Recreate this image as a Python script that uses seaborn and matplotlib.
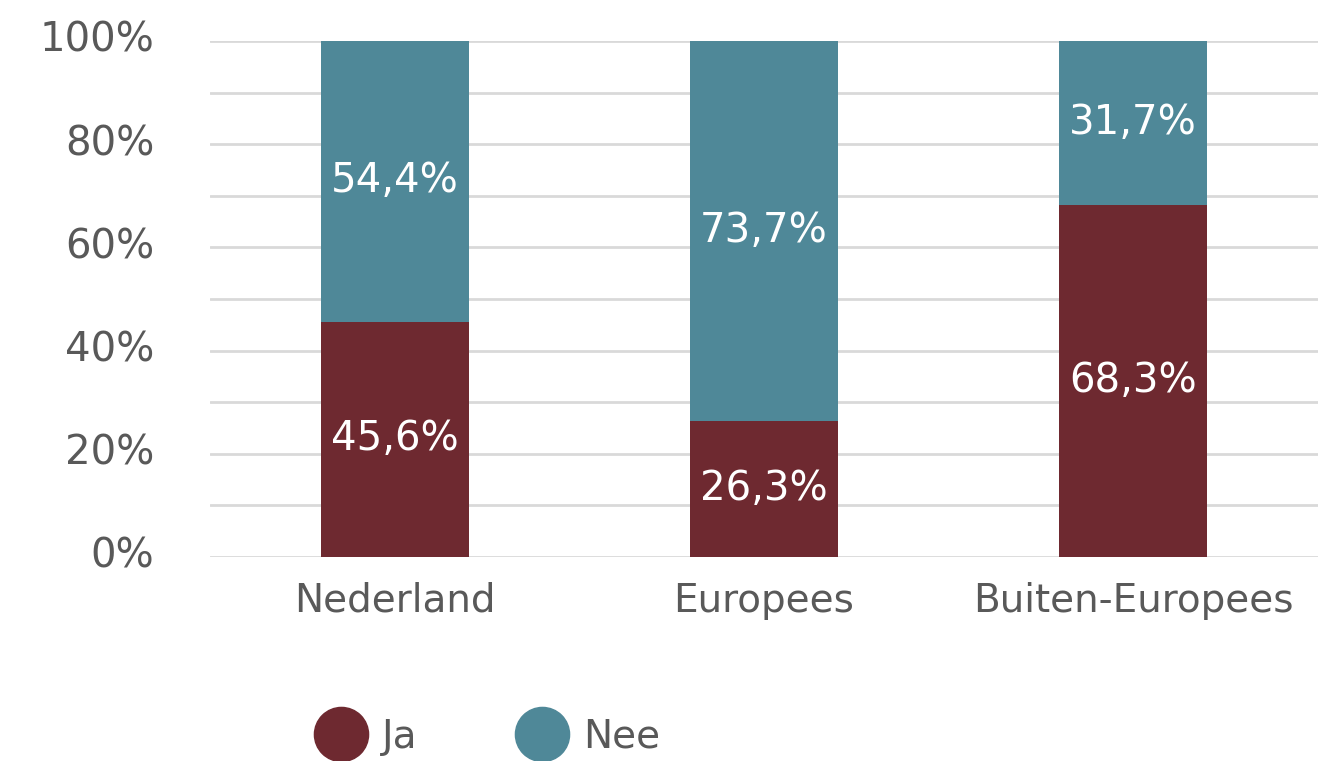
import matplotlib
matplotlib.use("Agg")
import matplotlib.pyplot as plt
from matplotlib.lines import Line2D
from matplotlib.ticker import MultipleLocator, FuncFormatter
import seaborn as sns
import pandas as pd

categories = ["Nederland", "Europees", "Buiten-Europees"]
ja = [45.6, 26.3, 68.3]
nee = [54.4, 73.7, 31.7]
series_names = ["Ja", "Nee"]

col_ja = "#6E2930"
col_nee = "#4F8898"
text_col = "#595959"

sns.set_theme(style="white")
plt.rcParams["font.family"] = ["DejaVu Sans"]

df = pd.DataFrame({"cat": categories, "ja": ja, "nee": nee})
df["total"] = df["ja"] + df["nee"]

fig = plt.figure(figsize=(13.27, 7.61), dpi=100)
ax = fig.add_axes([210 / 1327, 1 - 557 / 761, 1108 / 1327, 516 / 761])

sns.barplot(data=df, x="cat", y="total", color=col_nee, width=0.4,
            saturation=1, ax=ax, zorder=3, linewidth=0)
sns.barplot(data=df, x="cat", y="ja", color=col_ja, width=0.4,
            saturation=1, ax=ax, zorder=4, linewidth=0)

for i, (a, b) in enumerate(zip(ja, nee)):
    ax.text(i, a / 2, f"{a:.1f}%".replace(".", ","), ha="center", va="center",
            color="white", fontsize=29, zorder=5)
    ax.text(i, a + b / 2, f"{b:.1f}%".replace(".", ","), ha="center", va="center",
            color="white", fontsize=29, zorder=5)

ax.set_xlim(-0.5, 2.5)
ax.set_ylim(0, 100)
ax.yaxis.set_major_locator(MultipleLocator(20))
ax.yaxis.set_minor_locator(MultipleLocator(10))
ax.yaxis.set_major_formatter(FuncFormatter(lambda v, p: f"{v:.0f}%"))
ax.grid(axis="y", which="both", color="#D9D9D9", linewidth=2, zorder=0)
ax.set_axisbelow(True)
for s in ax.spines.values():
    s.set_visible(False)
ax.set_xlabel("")
ax.set_ylabel("")
ax.tick_params(axis="y", which="both", length=0, pad=40, labelsize=29,
               labelcolor=text_col)
for lbl in ax.get_yticklabels():
    lbl.set_verticalalignment("center")
ax.tick_params(axis="x", length=0, pad=18, labelsize=28, labelcolor=text_col)

handles = [Line2D([], [], marker="o", linestyle="", markersize=39,
                  markerfacecolor=c, markeredgecolor=c)
           for c in (col_ja, col_nee)]
fig.legend(handles, series_names, loc="center", bbox_to_anchor=(487 / 1327, 1 - 737 / 761),
           ncol=2, frameon=False, fontsize=28, labelcolor=text_col,
           handletextpad=0.36, columnspacing=2.5, handlelength=1.4)

fig.savefig("out.png", dpi=100)
